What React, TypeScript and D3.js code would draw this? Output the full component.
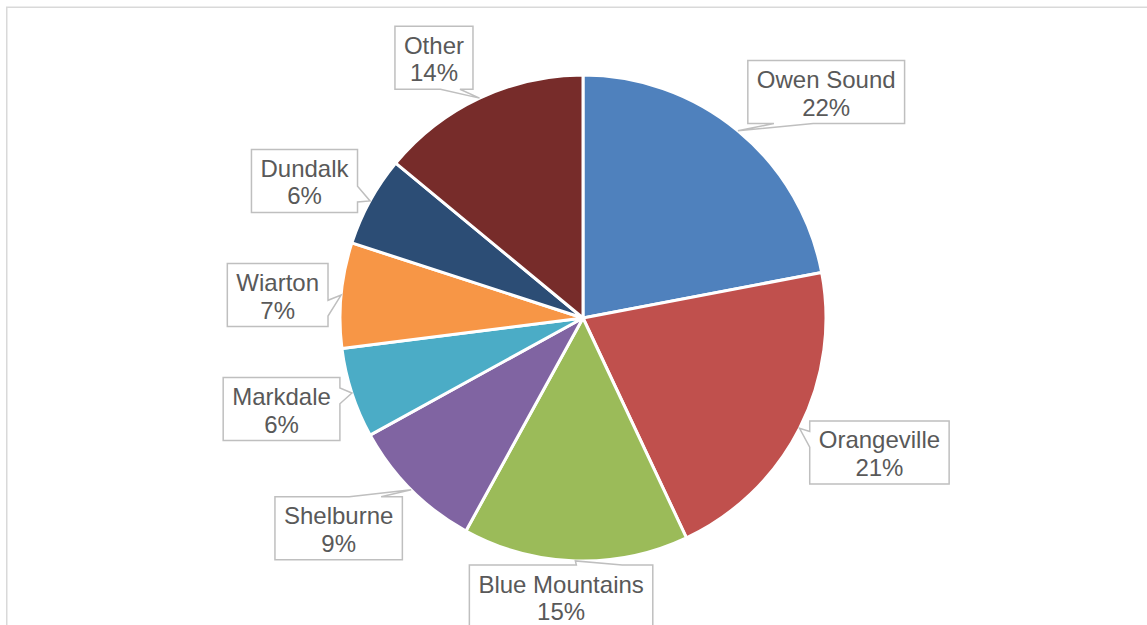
import { useEffect, useRef } from 'react';
import * as d3 from 'd3';

const cities = ['Owen Sound', 'Orangeville', 'Blue Mountains', 'Shelburne', 'Markdale', 'Wiarton', 'Dundalk', 'Other'];
const shares = [22, 21, 15, 9, 6, 7, 6, 14];
const sliceColors = ['#4F81BD', '#C0504D', '#9BBB59', '#8064A2', '#4BACC6', '#F79646', '#2C4D75', '#772C2A'];

// where each callout box sits: angle (deg, clockwise from 12 o'clock) and distance from the pie centre
const calloutAngle = [47.1, 114.4, 184.5, 229.3, 253.2, 274.3, 296.2, 330.2];
const calloutDist = [332, 325.5, 279.4, 322.3, 314.9, 306.2, 310.4, 299.9];

const W = 1147;
const H = 625;

export default function App() {
  const svgRef = useRef<SVGSVGElement>(null);

  useEffect(() => {
    if (!svgRef.current) return;
    const svg = d3.select(svgRef.current);
    svg.selectAll('*').remove();

    // chart area frame, runs off the page on the right and bottom
    svg
      .append('rect')
      .attr('x', 6.75)
      .attr('y', 7.25)
      .attr('width', 1300)
      .attr('height', 800)
      .attr('fill', '#fff')
      .attr('stroke', '#d9d9d9')
      .attr('stroke-width', 1.5);

    const cx = 583;
    const cy = 318;
    const r = 243;

    const arcs = d3.pie<number>().sort(null).value((d) => d)(shares);
    const arc = d3.arc<d3.PieArcDatum<number>>().innerRadius(0).outerRadius(r);

    const g = svg.append('g').attr('transform', `translate(${cx},${cy})`);

    g.selectAll('.slice')
      .data(arcs)
      .join('path')
      .attr('class', 'slice')
      .attr('d', arc)
      .attr('fill', (_, i) => sliceColors[i])
      .attr('stroke', '#fff')
      .attr('stroke-width', 3)
      .attr('stroke-linejoin', 'round');

    const polar = (a: number, rad: number): [number, number] => [rad * Math.sin(a), -rad * Math.cos(a)];

    arcs.forEach((d, i) => {
      const mid = (d.startAngle + d.endAngle) / 2;
      const [tx, ty] = polar(mid, r);
      const [bx, by] = polar((calloutAngle[i] * Math.PI) / 180, calloutDist[i]);

      const lab = g.append('g');
      const shape = lab.append('path');
      const text = lab
        .append('text')
        .attr('text-anchor', 'middle')
        .attr('font-family', 'Arial, "Liberation Sans", sans-serif')
        .attr('font-size', 24)
        .attr('fill', '#595959');
      const l1 = text.append('tspan').attr('x', bx).text(cities[i]);
      const l2 = text.append('tspan').attr('x', bx).text(`${shares[i]}%`);

      const tw = Math.max(l1.node()!.getComputedTextLength(), l2.node()!.getComputedTextLength());
      const w = tw + 18;
      const h = 63;
      const L = bx - w / 2;
      const T = by - h / 2;
      const R = bx + w / 2;
      const B = by + h / 2;
      l1.attr('y', T + 27.5);
      l2.attr('y', T + 55);

      // Excel style wedge callout: tail base sits at 2/12..5/12 or 7/12..10/12 of the facing side
      const dx = tx - bx;
      const dy = ty - by;
      const dq = (dx * h) / w;
      let p: [number, number][];
      if (Math.abs(dy) > Math.abs(dq)) {
        const x1 = L + (w * (dx > 0 ? 7 : 2)) / 12;
        const x2 = L + (w * (dx > 0 ? 10 : 5)) / 12;
        p = dy < 0
          ? [[L, T], [x1, T], [tx, ty], [x2, T], [R, T], [R, B], [L, B]]
          : [[L, T], [R, T], [R, B], [x2, B], [tx, ty], [x1, B], [L, B]];
      } else {
        const y1 = T + (h * (dy > 0 ? 7 : 2)) / 12;
        const y2 = T + (h * (dy > 0 ? 10 : 5)) / 12;
        p = dx < 0
          ? [[L, T], [R, T], [R, B], [L, B], [L, y2], [tx, ty], [L, y1]]
          : [[L, T], [R, T], [R, y1], [tx, ty], [R, y2], [R, B], [L, B]];
      }
      shape
        .attr('d', 'M' + p.map((q) => q.join(',')).join('L') + 'Z')
        .attr('fill', '#fff')
        .attr('stroke', '#bfbfbf')
        .attr('stroke-width', 1.5)
        .attr('stroke-linejoin', 'miter');
    });
  }, []);

  return (
    <svg
      ref={svgRef}
      width={W}
      height={H}
      style={{ position: 'absolute', left: 0, top: 0, display: 'block' }}
    />
  );
}
